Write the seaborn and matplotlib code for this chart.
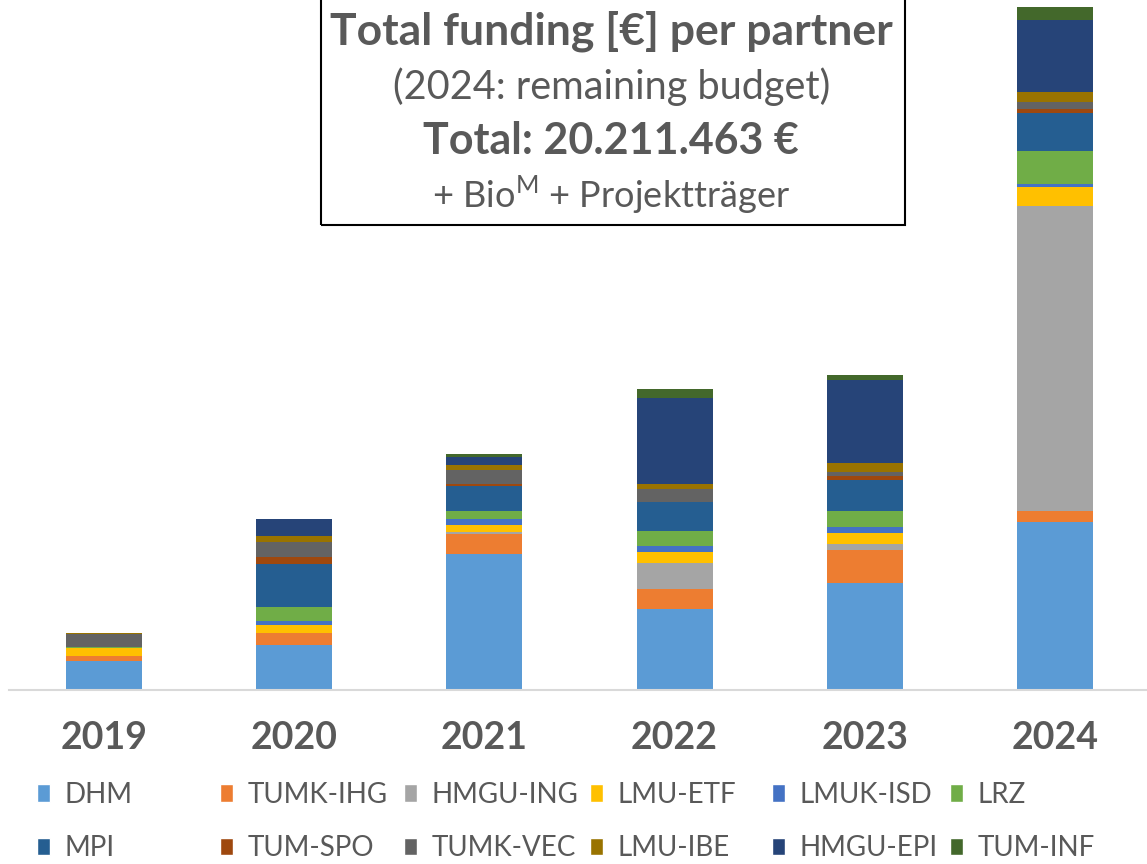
import pandas as pd
import numpy as np
import matplotlib
matplotlib.use('Agg')
import matplotlib.pyplot as plt
from matplotlib.patches import Patch, Rectangle
import seaborn as sns

# Funding per partner and year (k€)
years = [2019, 2020, 2021, 2022, 2023, 2024]
partners = ['DHM', 'TUMK-IHG', 'HMGU-ING', 'LMU-ETF', 'LMUK-ISD', 'LRZ',
            'MPI', 'TUM-SPO', 'TUMK-VEC', 'LMU-IBE', 'HMGU-EPI', 'TUM-INF']
dhm      = [325, 506, 1552, 920, 1227, 1920]
tumk_ihg = [61, 141, 230, 233, 380, 130]
hmgu_ing = [3, 0, 31, 296, 61, 3507]
lmu_etf  = [84, 89, 77, 130, 135, 222]
lmuk_isd = [0, 46, 72, 72, 69, 34]
lrz      = [11, 161, 89, 176, 181, 376]
mpi      = [0, 502, 284, 330, 353, 440]
tum_spo  = [0, 72, 26, 0, 46, 46]
tumk_vec = [157, 176, 161, 146, 46, 72]
lmu_ibe  = [11, 72, 57, 57, 100, 118]
hmgu_epi = [0, 195, 92, 986, 955, 828]
tum_inf  = [0, 0, 31, 103, 57, 146]

colors = ['#5B9BD5', '#ED7D31', '#A5A5A5', '#FFC000', '#4472C4', '#70AD47',
          '#255E91', '#9E480E', '#636363', '#997300', '#264478', '#43682B']

series = [dhm, tumk_ihg, hmgu_ing, lmu_etf, lmuk_isd, lrz,
          mpi, tum_spo, tumk_vec, lmu_ibe, hmgu_epi, tum_inf]
rows = []
for name, vals in zip(partners, series):
    for yr, v in zip(years, vals):
        rows.append({'year': yr, 'partner': name, 'funding': v})
df = pd.DataFrame(rows)

sns.set_style('white')
plt.rcParams['font.family'] = ['Lato', 'DejaVu Sans']
plt.rcParams['mathtext.fontset'] = 'custom'
plt.rcParams['mathtext.rm'] = 'Lato'
txt = '#595959'

fig = plt.figure(figsize=(11.47, 8.64), dpi=100)
ax = fig.add_axes([9 / 1147, 174.5 / 864, 1141 / 1147, 689.5 / 864])

sns.histplot(data=df, x='year', hue='partner', weights='funding',
             multiple='stack', discrete=True, shrink=0.4,
             hue_order=partners[::-1], palette=dict(zip(partners, colors)),
             linewidth=0, alpha=1, legend=False, ax=ax)

top = df[df['year'] == 2024]['funding'].sum()
ax.set_ylim(0, top * 689.5 / 682.2)
ax.set_xlim(2018.5, 2024.5)
ax.set_yticks([])
ax.set_ylabel('')
ax.set_xlabel('')
ax.set_xticks(years)
ax.set_xticklabels([str(y) for y in years], fontsize=27, fontweight='bold', color=txt)
ax.set_xticks(np.arange(2018.5, 2025, 1), minor=True)
ax.tick_params(axis='x', which='major', length=0, pad=23)
ax.tick_params(axis='x', which='minor', length=8, width=1.5, color='#D9D9D9', direction='out')
for s in ['top', 'left', 'right']:
    ax.spines[s].set_visible(False)
ax.spines['bottom'].set_color('#D9D9D9')
ax.spines['bottom'].set_linewidth(1.5)

# title box
cx = 0.533
fig.add_artist(Rectangle((321 / 1147, 1 - 225 / 864), (905 - 321) / 1147, 0.3,
                         transform=fig.transFigure, fill=False, edgecolor='black', linewidth=1.5))
fig.text(cx, 1 - 31 / 864, 'Total funding [€] per partner', ha='center', va='center',
         fontsize=32, fontweight='bold', color=txt)
fig.text(cx, 1 - 87 / 864, '(2024: remaining budget)', ha='center', va='center',
         fontsize=28.5, color=txt)
fig.text(cx, 1 - 141 / 864, 'Total: 20.211.463 €', ha='center', va='center',
         fontsize=31, fontweight='bold', color=txt)
fig.text(cx, 1 - 195 / 864, r'+ Bio$^{\mathrm{M}}$ + Projektträger', ha='center', va='center',
         fontsize=26, color=txt)

# legend, one small block per column
col_x = [37, 220, 404, 590, 772, 950]
for i, x in enumerate(col_x):
    idx = [i, i + 6]
    handles = [Patch(facecolor=colors[j]) for j in idx]
    labels = [partners[j] for j in idx]
    leg = fig.legend(handles, labels, loc='center left', bbox_to_anchor=(x / 1147, 1 - 821.5 / 864),
                     frameon=False, fontsize=20, handlelength=0.45, handleheight=0.6,
                     handletextpad=0.55, labelspacing=1.0, borderpad=0, borderaxespad=0)
    for t in leg.get_texts():
        t.set_color(txt)

plt.savefig('out.png', dpi=100)
